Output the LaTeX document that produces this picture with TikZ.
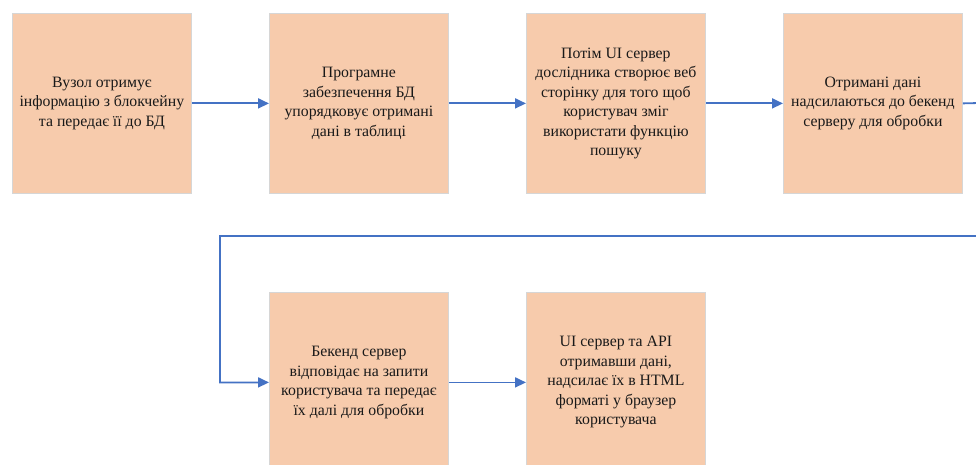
\documentclass[tikz,border=0pt]{standalone}
\usepackage{fontspec}
\setmainfont{Liberation Serif}
\usetikzlibrary{arrows.meta}
\definecolor{boxfill}{HTML}{F7CBAC}
\definecolor{boxline}{HTML}{D6D6D6}
\definecolor{flow}{HTML}{4472C4}
\tikzset{
  stepbox/.style={draw=boxline, line width=0.8pt, fill=boxfill,
    minimum width=179pt, minimum height=180pt, anchor=north west,
    align=center, inner sep=0pt,
    font=\fontsize{15.8pt}{19.5pt}\selectfont, text=black!90},
  flowline/.style={draw=flow, line width=1.8pt},
  flowarrow/.style={flowline, -{Triangle[length=11pt,width=10pt]}},
}
\begin{document}
\begin{tikzpicture}[x=1pt,y=-1pt]
  \useasboundingbox (0,0) rectangle (976,465);
  \clip (0,0) rectangle (976,465);
  % first row
  \node[stepbox] (b1) at (12,13) {Вузол отримує\\інформацію з блокчейну\\та передає її до БД};
  \node[stepbox] (b2) at (269,13) {Програмне\\забезпечення БД\\упорядковує отримані\\дані в таблиці};
  \node[stepbox] (b3) at (526,13) {Потім UI сервер\\дослідника створює веб\\сторінку для того щоб\\користувач зміг\\використати функцію\\пошуку};
  \node[stepbox] (b4) at (783,13) {Отримані дані\\надсилаються до бекенд\\серверу для обробки};
  % second row
  \node[stepbox] (b5) at (269,292) {Бекенд сервер\\відповідає на запити\\користувача та передає\\їх далі для обробки};
  \node[stepbox] (b6) at (526,292) {UI сервер та API\\отримавши дані,\\надсилає їх в HTML\\форматі у браузер\\користувача};
  % turn points of the return line
  \coordinate (r1) at (1000,102.5);
  \coordinate (r2) at (1000,236);
  \coordinate (l1) at (220,236);
  % connectors
  \draw[flowarrow] (b1.east) -- (b2.west);
  \draw[flowarrow] (b2.east) -- (b3.west);
  \draw[flowarrow] (b3.east) -- (b4.west);
  \draw[flowarrow] (b4.east) -- (r1) -- (r2) -- (l1) |- (b5.west);
  \draw[flowarrow] (b5.east) -- (b6.west);
\end{tikzpicture}
\end{document}
